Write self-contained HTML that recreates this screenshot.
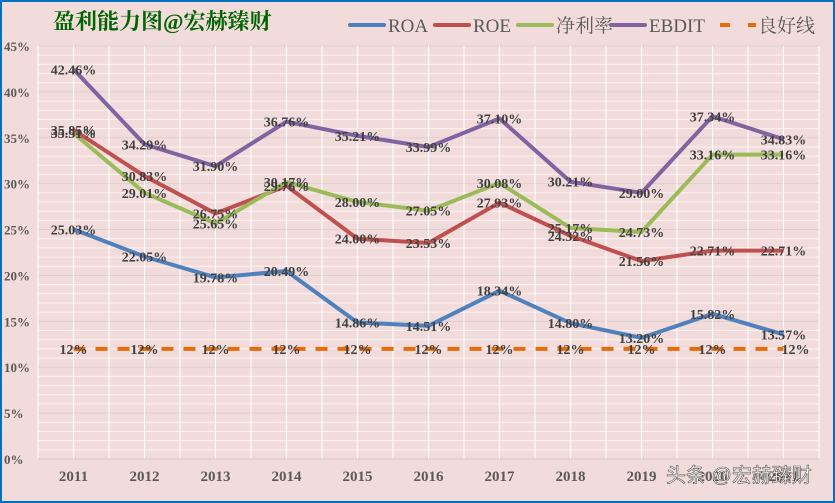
<!DOCTYPE html>
<html><head><meta charset="utf-8"><style>
html,body{margin:0;padding:0;}
body{width:835px;height:503px;overflow:hidden;}
#wrap{position:absolute;left:0;top:0;width:831px;height:499px;border:2px solid #0070c0;background:#f2dcdb;}
svg{position:absolute;left:-2px;top:-2px;}
</style></head><body>
<div id="wrap"></div>
<svg id="chart" width="835" height="503" font-family="'Liberation Serif','Noto Serif CJK SC',serif"></svg>
<script>
const years=['2011','2012','2013','2014','2015','2016','2017','2018','2019','2020','2021'];
const roa=[25.03,22.05,19.78,20.49,14.86,14.51,18.34,14.80,13.20,15.82,13.57];
const roe=[35.85,30.83,26.75,29.76,24.00,23.53,27.93,24.32,21.56,22.71,22.71];
const netMargin=[35.51,29.01,25.65,30.17,28.00,27.05,30.08,25.17,24.73,33.16,33.16];
const ebdit=[42.46,34.29,31.90,36.76,35.21,33.99,37.10,30.21,29.00,37.34,34.83];
const goodLine=[12,12,12,12,12,12,12,12,12,12,12];
const yTicks=[0,5,10,15,20,25,30,35,40,45];

const svg=document.getElementById('chart');
const NS='http://www.w3.org/2000/svg';
const L=40,R=821,T=48,B=461,band=(R-L)/years.length;
const x=i=>L+band*(i+0.5);
const y=v=>B-(v/45)*(B-T);
function mk(tag,attrs,parent){const e=document.createElementNS(NS,tag);for(const k in attrs)e.setAttribute(k,attrs[k]);(parent||svg).appendChild(e);return e;}

const grid=mk('g',{});


for(let v=0;v<=45;v++){
  mk('line',{x1:L,x2:R,y1:y(v),y2:y(v),stroke:v%5===0?'#d9d0d0':'#fbf3f3','stroke-width':1},grid);
}
for(let i=0;i<=years.length*2;i++){
  const xx=L+band/2*i;
  mk('line',{x1:xx,x2:xx,y1:T,y2:B,stroke:'#ffffff','stroke-width':1},grid);
}
mk('line',{x1:L,x2:R,y1:B,y2:B,stroke:'#d0c8c8','stroke-width':1},grid);

yTicks.forEach(v=>{
  const t=mk('text',{x:6,y:y(v)+5,'font-size':13,'font-weight':'bold',fill:'#595959'});
  t.textContent=v+'%';
  
  
});
years.forEach((yr,i)=>{
  const t=mk('text',{x:x(i),y:483,'font-size':15,'font-weight':'bold',fill:'#595959','text-anchor':'middle'});
  t.textContent=yr;
  
  
});

function series(data,color,name,dash){
  const g=mk('g',{});
  
  
  const pts=data.map((v,i)=>x(i)+','+y(v)).join(' ');
  const attrs={points:pts,fill:'none',stroke:color,'stroke-width':4,'stroke-linejoin':'round'};
  if(dash){attrs['stroke-dasharray']='12 10';}
  const p=mk('polyline',attrs,g);
  
  
  return g;
}
function labels(data,name,fmt,dx){
  data.forEach((v,i)=>{
    const t=mk('text',{x:x(i)+(dx&&i===data.length-1?dx:0),y:y(v)+5,'font-size':14,'font-weight':'bold',fill:'#404040','text-anchor':'middle'});
    t.textContent=fmt(v);
    
    
  });
}
series(goodLine,'#e46c0a','good-line',true);
series(roa,'#4f81bd','roa');
series(roe,'#c0504d','roe');
series(netMargin,'#9bbb59','net-margin');
series(ebdit,'#8064a2','ebdit');
const f2=v=>v.toFixed(2)+'%';
labels(goodLine,'good-line',v=>v+'%',12);
labels(roa,'roa',f2);
labels(roe,'roe',f2);
labels(netMargin,'net-margin',f2);
labels(ebdit,'ebdit',f2);

const title=mk('text',{x:55,y:31,'font-size':22,'font-weight':'bold',fill:'#006400'});
title.textContent='盈利能力图@宏赫臻财';



const leg=[['ROA','#4f81bd',352],['ROE','#c0504d',437],['净利率','#9bbb59',520],['EBDIT','#8064a2',613],['良好线','#e46c0a',722]];
leg.forEach(([n,c,lx],k)=>{
  const g=mk('g',{});
  
  
  if(k===4){
    mk('line',{x1:lx,x2:lx+10,y1:27,y2:27,stroke:c,'stroke-width':4},g);
    mk('line',{x1:lx+28,x2:lx+36,y1:27,y2:27,stroke:c,'stroke-width':4},g);
  } else mk('line',{x1:lx,x2:lx+34,y1:27,y2:27,stroke:c,'stroke-width':4,'stroke-linecap':'round'},g);
  const t=mk('text',{x:lx+38,y:34,'font-size':19,fill:'#595959'},g);
  t.textContent=n;
});

const wm=mk('text',{x:668,y:484,'font-size':20,fill:'#ffffff',stroke:'#555','stroke-width':0.6,'font-family':"'Liberation Sans','Noto Sans CJK SC',sans-serif"});
wm.textContent='头条 @宏赫臻财';


</script>
</body></html>
